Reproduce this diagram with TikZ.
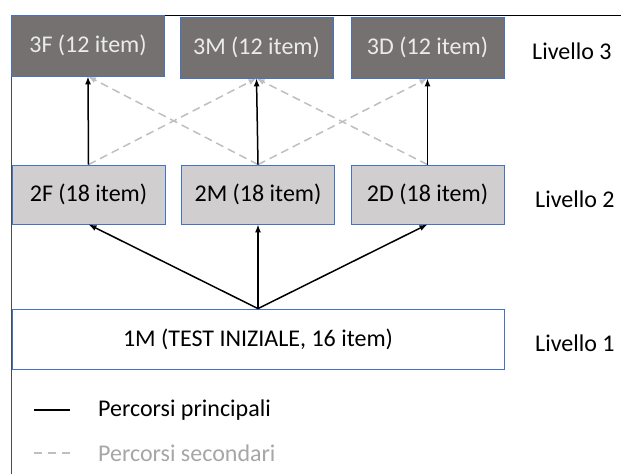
\documentclass[tikz,border=0pt]{standalone}
\usepackage{fontspec}
\setmainfont{Carlito}
\usetikzlibrary{arrows.meta,positioning}
\definecolor{boxblue}{HTML}{4472C4}
\definecolor{darkbox}{HTML}{767171}
\definecolor{lightbox}{HTML}{D0CECE}
\definecolor{pathgray}{HTML}{BFBFBF}
\definecolor{legendgray}{HTML}{A6A6A6}

\begin{document}
\begin{tikzpicture}[x=1bp, y=-1bp, font=\fontsize{24bp}{28bp}\selectfont,
  lvthree/.style={draw=boxblue, line width=0.8bp, fill=darkbox, text=white!92!black, minimum width=153bp, minimum height=61bp, inner sep=0pt},
  lvtwo/.style={draw=boxblue, line width=0.8bp, fill=lightbox, minimum width=153bp, minimum height=59bp, inner sep=0pt},
  lvone/.style={draw=boxblue, line width=0.8bp, fill=white, minimum width=492bp, minimum height=60bp, inner sep=0pt},
  lvlabel/.style={anchor=west, inner sep=0pt},
  mainpath/.style={line width=1.5bp, -{Latex[length=8bp,width=6bp]}},
  sidepath/.style={line width=1.5bp, pathgray, dash pattern=on 8bp off 5bp, -{Latex[length=8bp,width=6bp]}}]
  \useasboundingbox (0,0) rectangle (621,474);
  % frame
  \draw[line width=1bp, black!70] (11,474) -- (11,15.5);
  \draw[line width=1bp] (11,15.5) -- (621,15.5);
  % level 3
  \node[lvthree] (f3) at (88,45.5) {3F (12 item)};
  \node[lvthree] (m3) at (256.5,47.5) {3M (12 item)};
  \node[lvthree] (d3) at (427.5,47.5) {3D (12 item)};
  % level 2
  \node[lvtwo] (f2) at (88.5,194.5) {2F (18 item)};
  \node[lvtwo] (m2) at (258,194.5) {2M (18 item)};
  \node[lvtwo] (d2) at (427.5,194.5) {2D (18 item)};
  % level 1
  \node[lvone] (m1) at (258,339) {1M (TEST INIZIALE, 16 item)};
  \node[lvlabel] (l3) at (532,51) {Livello 3};
  \node[lvlabel] (l2) at (535,199) {Livello 2};
  \node[lvlabel] (l1) at (535,343) {Livello 1};
  % secondary paths
  \draw[sidepath] (f2.north) -- (m3.south);
  \draw[sidepath] (m2.north) -- (f3.south);
  \draw[sidepath] (m2.north) -- (d3.south);
  \draw[sidepath] (d2.north) -- (m3.south);
  % main paths
  \draw[mainpath] (f2.north) -- (f3.south);
  \draw[mainpath] (m2.north) -- (m3.south);
  \draw[mainpath] (d2.north) -- (d3.south);
  \draw[mainpath] (m1.north) -- (f2.south);
  \draw[mainpath] (m1.north) -- (m2.south);
  \draw[mainpath] (m1.north) -- (d2.south);
  % legend
  \node[lvlabel] (lp) at (98,410) {Percorsi principali};
  \node[lvlabel, text=legendgray] (ls) at (98,453) {Percorsi secondari};
  \draw[line width=1.5bp] ([xshift=-64bp]lp.west) -- ([xshift=-28bp]lp.west);
  \draw[line width=1.5bp, pathgray, dash pattern=on 8bp off 6bp] ([xshift=-64bp]ls.west) -- ([xshift=-28bp]ls.west);
\end{tikzpicture}
\end{document}
